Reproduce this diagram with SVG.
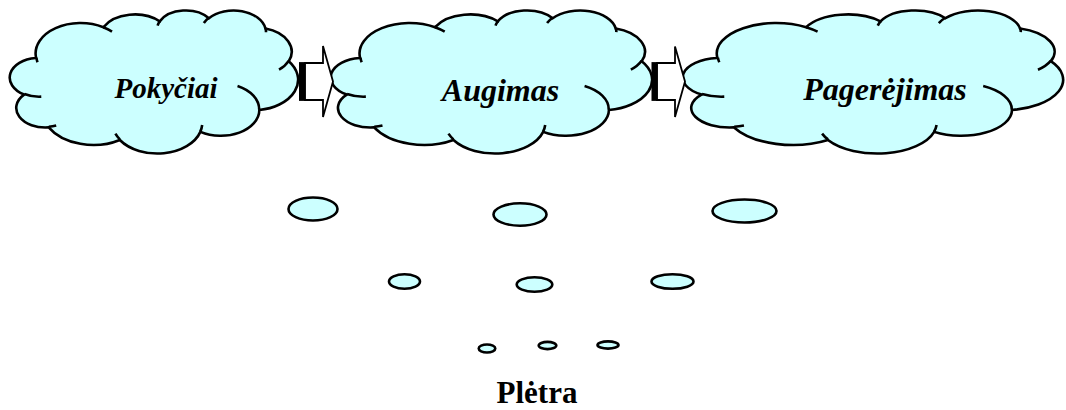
<svg xmlns="http://www.w3.org/2000/svg" xmlns:xlink="http://www.w3.org/1999/xlink" width="1066" height="410" viewBox="0 0 1066 410">
  <style>
    .cloud { fill: #CCFFFF; stroke: #000; stroke-width: 2.6; }
    .inner { fill: none; stroke: #000; stroke-width: 2.6; }
    .bubble { fill: #CCFFFF; stroke: #000; stroke-width: 2.6; }
    .arrow { fill: #fff; stroke: #000; stroke-width: 1.8; stroke-linejoin: miter; }
    .bar { fill: #000; }
    .label { font-family: "Liberation Serif", "Times New Roman", serif; font-weight: bold; font-style: italic; text-anchor: middle; fill: #000; }
    .title { font-family: "Liberation Serif", "Times New Roman", serif; font-weight: bold; text-anchor: middle; fill: #000; font-size: 31px; }
  </style>
  <defs>
    <path id="cloudOuter" vector-effect="non-scaling-stroke" d="M 9.03 33.26 A 15.63 21.27 0 0 1 32.42 12.04 A 12.35 16.82 0 0 1 51.98 7.95 A 10.10 13.76 0 0 1 69.06 5.75 A 11.24 15.27 0 0 1 88.70 12.92 A 12.35 16.84 0 0 1 96.80 35.80 A 15.68 21.34 0 0 1 86.58 69.92 A 13.39 18.21 0 0 1 66.10 85.22 A 15.63 21.33 0 0 1 38.14 90.89 A 17.87 24.41 0 0 1 13.43 82.11 A 10.09 13.70 0 0 1 4.89 59.14 A 10.06 13.76 0 0 1 8.94 33.57 Z"/>
    <path id="cloudInner" vector-effect="non-scaling-stroke" d="M 10.86 60.60 A 10.06 13.76 0 0 1 5.00 58.75 M 16.04 80.79 A 10.09 13.70 0 0 1 13.47 81.67 M 38.14 90.49 A 15.63 21.33 0 0 1 36.60 86.46 M 66.73 80.44 A 15.63 21.33 0 0 1 66.11 84.86 M 79.00 53.13 A 13.39 18.21 0 0 1 86.53 69.65 M 96.76 35.54 A 12.35 16.84 0 0 1 93.41 41.74 M 88.71 12.56 A 11.24 15.27 0 0 1 88.89 15.49 M 67.31 9.15 A 11.24 15.27 0 0 1 69.03 5.42 M 51.25 10.93 A 10.10 13.76 0 0 1 52.08 7.71 M 32.41 12.02 A 15.63 21.27 0 0 1 35.42 15.15 M 9.55 36.55 A 15.63 21.27 0 0 1 9.18 33.29"/>
  </defs>

  <g id="cloud-pokyciai">
    <g transform="translate(10,10) scale(2.88,1.43)">
      <use xlink:href="#cloudOuter" href="#cloudOuter" class="cloud"/>
      <use xlink:href="#cloudInner" href="#cloudInner" class="inner"/>
    </g>
    <text class="label" x="166" y="98" font-size="29">Pokyčiai</text>
  </g>

  <g id="cloud-augimas">
    <g transform="translate(331,10) scale(3.21,1.43)">
      <use xlink:href="#cloudOuter" href="#cloudOuter" class="cloud"/>
      <use xlink:href="#cloudInner" href="#cloudInner" class="inner"/>
    </g>
    <text class="label" x="500.5" y="101" font-size="32">Augimas</text>
  </g>

  <g id="cloud-pagerejimas">
    <g transform="translate(683,10) scale(3.80,1.43)">
      <use xlink:href="#cloudOuter" href="#cloudOuter" class="cloud"/>
      <use xlink:href="#cloudInner" href="#cloudInner" class="inner"/>
    </g>
    <text class="label" x="885" y="100" font-size="32">Pagerėjimas</text>
  </g>

  <g id="connectors">
    <g id="arrow-1">
      <path class="arrow" d="M 305 63 L 323 63 L 323 46 L 333 81.5 L 323 117 L 323 100 L 305 100 Z"/>
      <rect class="bar" x="299" y="62.1" width="6.3" height="38.8"/>
    </g>
    <g id="arrow-2">
      <path class="arrow" d="M 657 63 L 675 63 L 675 46.5 L 685 81.5 L 675 117 L 675 100 L 657 100 Z"/>
      <rect class="bar" x="651.5" y="62.1" width="6" height="38.8"/>
    </g>
  </g>

  <g id="bubbles">
    <ellipse class="bubble" cx="313" cy="209" rx="24.5" ry="11.5"/>
    <ellipse class="bubble" cx="520" cy="214.5" rx="26.5" ry="11.2"/>
    <ellipse class="bubble" cx="744.5" cy="211" rx="32" ry="11.5"/>
    <ellipse class="bubble" cx="404.5" cy="281.5" rx="15.5" ry="7.3"/>
    <ellipse class="bubble" cx="534.5" cy="284.5" rx="17.8" ry="7.3"/>
    <ellipse class="bubble" cx="672.5" cy="281.5" rx="21" ry="7.3"/>
    <ellipse class="bubble" cx="487" cy="348.5" rx="8.3" ry="4"/>
    <ellipse class="bubble" cx="547.5" cy="345.5" rx="8.8" ry="3.6"/>
    <ellipse class="bubble" cx="608" cy="345" rx="10.5" ry="3.6"/>
  </g>

  <g id="title">
    <text class="title" x="537" y="403">Plėtra</text>
  </g>
</svg>
